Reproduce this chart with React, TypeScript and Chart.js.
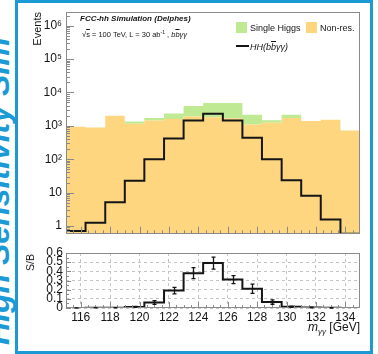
import React, { useEffect, useRef } from "react";
import { Chart, registerables } from "chart.js";

Chart.register(...registerables);

// m_γγ histogram bin edges [GeV] (15 bins)
const binEdges = [115, 116.33, 117.67, 119, 120.33, 121.67, 123, 124.33, 125.67, 127, 128.33, 129.67, 131, 132.33, 133.67, 135];

// Events per bin
const nonResonant = [930, 890, 2000, 1150, 1450, 1600, 1900, 1800, 1700, 1100, 1230, 1730, 1400, 1530, 730];
const singleHiggs = [0, 0, 0, 200, 280, 750, 2050, 3050, 3150, 1040, 250, 410, 0, 0, 0];
const hhSignal = [0.71, 1.25, 5.1, 22.5, 100, 420, 1440, 2300, 1440, 440, 100, 23.6, 8, 1.57, 0];

// Signal over background with statistical errors
const sOverB = [0.001, 0.0015, 0.003, 0.012, 0.06, 0.19, 0.38, 0.49, 0.31, 0.21, 0.065, 0.013, 0.006, 0.002, 0];
const sOverBErr = [0.001, 0.001, 0.002, 0.006, 0.02, 0.035, 0.06, 0.065, 0.044, 0.05, 0.024, 0.007, 0.004, 0.002, 0];

// Axis ticks and labels
const massTicks = [116, 118, 120, 122, 124, 126, 128, 130, 132, 134];
const eventDecades = [1, 10, 100, 1000, 10000, 100000, 1000000];
const decadeLabels = ["1", "10", "10²", "10³", "10⁴", "10⁵", "10⁶"];
const ratioTicks = [0, 0.1, 0.2, 0.3, 0.4, 0.5, 0.6];
const ratioLabels = ["0", "0.1", "0.2", "0.3", "0.4", "0.5", "0.6"];

const EVENTS_MIN = Math.pow(10, -0.235);
const EVENTS_MAX = Math.pow(10, 6.41);

const FONT = "'Liberation Sans', Arial, Helvetica, sans-serif";
const ORANGE = "#fed680";
const GREEN = "#bfe993";
const BLUE = "#1c9ad6";
const AXIS = "#8a8a8a";
const GRID = "#c4c4c4";
const INK = "#151515";

Chart.defaults.font.family = FONT;

// histogram outline: two points per bin so every edge gets a vertical step
function histPoints(values: number[]) {
  const pts: { x: number; y: number }[] = [];
  values.forEach((v, i) => {
    pts.push({ x: binEdges[i], y: v });
    pts.push({ x: binEdges[i + 1], y: v });
  });
  return pts;
}

function minorMassTicks() {
  const out: number[] = [];
  for (let v = 115.5; v < 135; v += 0.5) out.push(v);
  return out;
}

function logMinorTicks() {
  const out: number[] = [];
  for (let d = -1; d <= 6; d++) {
    for (let m = 2; m <= 9; m++) {
      const v = m * Math.pow(10, d);
      if (v > EVENTS_MIN && v < EVENTS_MAX) out.push(v);
    }
  }
  return out;
}

// frame around the plot area plus inward-pointing tick marks
function framePlugin(cfg: {
  xMajor: number[];
  xMinor: number[];
  yMajor: number[];
  yMinor: number[];
  xLen: [number, number];
  yLen: [number, number];
}) {
  return {
    id: "frameTicks",
    afterDatasetsDraw(chart: any) {
      const { ctx, chartArea: a, scales } = chart;
      const xs = scales.x;
      const ys = scales.y;
      ctx.save();
      ctx.strokeStyle = AXIS;
      ctx.lineWidth = 1;
      ctx.beginPath();
      const vx = (vals: number[], len: number) =>
        vals.forEach((v) => {
          const px = Math.round(xs.getPixelForValue(v)) + 0.5;
          ctx.moveTo(px, a.bottom);
          ctx.lineTo(px, a.bottom - len);
        });
      const vy = (vals: number[], len: number) =>
        vals.forEach((v) => {
          const py = Math.round(ys.getPixelForValue(v)) + 0.5;
          ctx.moveTo(a.left, py);
          ctx.lineTo(a.left + len, py);
        });
      vx(cfg.xMajor, cfg.xLen[0]);
      vx(cfg.xMinor, cfg.xLen[1]);
      vy(cfg.yMajor, cfg.yLen[0]);
      vy(cfg.yMinor, cfg.yLen[1]);
      ctx.stroke();
      ctx.strokeRect(Math.round(a.left) + 0.5, Math.round(a.top) + 0.5, Math.round(a.width) - 1, Math.round(a.height) - 1);
      ctx.restore();
    },
  };
}

const errorBarPlugin = {
  id: "errorBars",
  afterDatasetsDraw(chart: any) {
    const { ctx, scales } = chart;
    const xs = scales.x;
    const ys = scales.y;
    ctx.save();
    ctx.strokeStyle = INK;
    ctx.lineWidth = 1.3;
    ctx.beginPath();
    sOverB.forEach((v, i) => {
      const e = sOverBErr[i];
      if (!e) return;
      const px = Math.round(xs.getPixelForValue((binEdges[i] + binEdges[i + 1]) / 2)) + 0.5;
      const top = ys.getPixelForValue(v + e);
      const bot = ys.getPixelForValue(Math.max(0, v - e));
      ctx.moveTo(px, top);
      ctx.lineTo(px, bot);
      ctx.moveTo(px - 2, top);
      ctx.lineTo(px + 2, top);
      ctx.moveTo(px - 2, bot);
      ctx.lineTo(px + 2, bot);
    });
    ctx.stroke();
    ctx.restore();
  },
};

const MAIN_H = 245;
const RATIO_TOP = 240;
const RATIO_H = 110;

export default function App() {
  const mainRef = useRef<HTMLCanvasElement>(null);
  const ratioRef = useRef<HTMLCanvasElement>(null);

  useEffect(() => {
    const bkgTotal = nonResonant.map((v, i) => v + singleHiggs[i]);
    const main = new Chart(mainRef.current as HTMLCanvasElement, {
      type: "line",
      data: {
        datasets: [
          {
            label: "HH(bb̄γγ)",
            data: histPoints(hhSignal.map((v) => Math.max(v, EVENTS_MIN))),
            borderColor: INK,
            borderWidth: 2,
            pointRadius: 0,
            fill: false,
          },
          {
            label: "Non-res.",
            data: histPoints(nonResonant),
            borderColor: "rgba(0,0,0,0)",
            borderWidth: 0,
            backgroundColor: ORANGE,
            pointRadius: 0,
            fill: "start",
          },
          {
            label: "Single Higgs",
            data: histPoints(bkgTotal),
            borderColor: "rgba(0,0,0,0)",
            borderWidth: 0,
            backgroundColor: GREEN,
            pointRadius: 0,
            fill: 1,
          },
        ],
      },
      options: {
        animation: false,
        responsive: false,
        maintainAspectRatio: false,
        devicePixelRatio: 1,
        layout: { padding: { top: 12, right: 18, left: 0, bottom: 0 } },
        plugins: { legend: { display: false }, tooltip: { enabled: false } },
        elements: { line: { tension: 0 } },
        scales: {
          x: {
            type: "linear",
            min: 115,
            max: 135,
            bounds: "data",
            grid: { display: false, drawTicks: false },
            border: { display: false },
            ticks: { display: false },
            afterFit: (s: any) => {
              s.height = MAIN_H - 238;
            },
          },
          y: {
            type: "logarithmic",
            min: EVENTS_MIN,
            max: EVENTS_MAX,
            bounds: "data",
            grid: { display: false, drawTicks: false },
            border: { display: false },
            ticks: {
              autoSkip: false,
              padding: 4,
              color: INK,
              font: { size: 12 },
              callback: (v: any) => {
                const i = eventDecades.indexOf(Number(v));
                return i >= 0 ? decadeLabels[i] : "";
              },
            },
            afterBuildTicks: (s: any) => {
              s.ticks = eventDecades.map((v) => ({ value: v }));
            },
            afterFit: (s: any) => {
              s.width = 66;
            },
          },
        },
      } as any,
      plugins: [
        framePlugin({
          xMajor: massTicks,
          xMinor: minorMassTicks(),
          yMajor: eventDecades,
          yMinor: logMinorTicks(),
          xLen: [7, 3.5],
          yLen: [8, 4],
        }),
      ],
    });

    const ratio = new Chart(ratioRef.current as HTMLCanvasElement, {
      type: "line",
      data: {
        datasets: [
          {
            label: "S/B",
            data: histPoints(sOverB),
            borderColor: INK,
            borderWidth: 2,
            pointRadius: 0,
            fill: false,
          },
        ],
      },
      options: {
        animation: false,
        responsive: false,
        maintainAspectRatio: false,
        devicePixelRatio: 1,
        layout: { padding: { top: 253 - RATIO_TOP, right: 18, left: 0, bottom: 0 } },
        plugins: { legend: { display: false }, tooltip: { enabled: false } },
        elements: { line: { tension: 0 } },
        scales: {
          x: {
            type: "linear",
            min: 115,
            max: 135,
            bounds: "data",
            grid: { color: GRID, drawTicks: false },
            border: { display: false, dash: [3, 3] },
            ticks: {
              autoSkip: false,
              maxRotation: 0,
              padding: 2,
              color: INK,
              font: { size: 12 },
              callback: (v: any) => String(v),
            },
            afterBuildTicks: (s: any) => {
              s.ticks = massTicks.map((v) => ({ value: v }));
            },
            afterFit: (s: any) => {
              s.height = RATIO_H - (308 - RATIO_TOP);
            },
          },
          y: {
            type: "linear",
            min: 0,
            max: 0.6,
            bounds: "data",
            grid: { color: GRID, drawTicks: false },
            border: { display: false, dash: [3, 3] },
            ticks: {
              autoSkip: false,
              padding: 3,
              color: INK,
              font: { size: 12 },
              callback: (v: any) => {
                const i = ratioTicks.findIndex((t) => Math.abs(t - Number(v)) < 1e-6);
                return i >= 0 ? ratioLabels[i] : "";
              },
            },
            afterBuildTicks: (s: any) => {
              s.ticks = ratioTicks.map((v) => ({ value: v }));
            },
            afterFit: (s: any) => {
              s.width = 66;
            },
          },
        },
      } as any,
      plugins: [
        framePlugin({
          xMajor: massTicks,
          xMinor: minorMassTicks(),
          yMajor: ratioTicks,
          yMinor: [0.05, 0.15, 0.25, 0.35, 0.45, 0.55],
          xLen: [6, 3],
          yLen: [5, 3],
        }),
        errorBarPlugin,
      ],
    });

    return () => {
      main.destroy();
      ratio.destroy();
    };
  }, []);

  const abs = (extra: React.CSSProperties): React.CSSProperties => ({
    position: "absolute",
    whiteSpace: "nowrap",
    fontFamily: FONT,
    color: INK,
    ...extra,
  });
  const over: React.CSSProperties = { textDecoration: "overline" };

  return (
    <div
      style={{
        position: "fixed",
        left: 0,
        top: 0,
        width: 378,
        height: 354,
        background: "#ffffff",
        overflow: "hidden",
        fontFamily: FONT,
      }}
    >
      {/* side banner */}
      <div style={{ position: "absolute", left: 0, top: 0, width: 15, height: 354, overflow: "hidden" }}>
        <div
          style={abs({
            left: -18,
            top: 345,
            transformOrigin: "0 0",
            transform: "rotate(-90deg)",
            fontSize: 32,
            lineHeight: "32px",
            fontWeight: "bold",
            fontStyle: "italic",
            color: BLUE,
          })}
        >
          High Sensitivity Sim
        </div>
      </div>
      <div
        style={{
          position: "absolute",
          left: 15,
          top: 0,
          width: 358,
          height: 354,
          boxSizing: "border-box",
          border: `3px solid ${BLUE}`,
        }}
      />

      <canvas ref={mainRef} width={378} height={MAIN_H} style={{ position: "absolute", left: 0, top: 0 }} />
      <canvas ref={ratioRef} width={378} height={RATIO_H} style={{ position: "absolute", left: 0, top: RATIO_TOP }} />

      {/* plot annotations */}
      <div style={abs({ left: 80, top: 14, fontSize: 8, lineHeight: "10px", fontWeight: "bold", fontStyle: "italic" })}>
        FCC-hh Simulation (Delphes)
      </div>
      <div style={abs({ left: 82, top: 30, fontSize: 7.5, lineHeight: "10px" })}>
        √<span style={over}>s</span> = 100 TeV, L = 30 ab
        <span style={{ fontSize: 5, position: "relative", top: -3 }}>-1</span> ,{" "}
        <i>
          b<span style={over}>b</span>γγ
        </i>
      </div>

      {/* legend */}
      <div style={{ position: "absolute", left: 236, top: 22, width: 11, height: 11, background: GREEN }} />
      <div style={abs({ left: 250, top: 23, fontSize: 9, lineHeight: "10px" })}>Single Higgs</div>
      <div style={{ position: "absolute", left: 306, top: 22, width: 11, height: 11, background: ORANGE }} />
      <div style={abs({ left: 320, top: 23, fontSize: 9, lineHeight: "10px" })}>Non-res.</div>
      <div style={{ position: "absolute", left: 236, top: 45, width: 13, height: 2, background: INK }} />
      <div style={abs({ left: 250, top: 42, fontSize: 9, lineHeight: "10px", fontStyle: "italic" })}>
        HH(b<span style={over}>b</span>γγ)
      </div>

      {/* axis titles */}
      <div
        style={abs({
          left: 31.5,
          top: 12,
          fontSize: 11,
          lineHeight: "11px",
          transformOrigin: "0 0",
          transform: "rotate(-90deg) translateX(-100%)",
        })}
      >
        Events
      </div>
      <div
        style={abs({
          left: 25,
          top: 254,
          fontSize: 10.5,
          lineHeight: "10.5px",
          transformOrigin: "0 0",
          transform: "rotate(-90deg) translateX(-100%)",
        })}
      >
        S/B
      </div>
      <div style={abs({ right: 18, top: 321, fontSize: 12, lineHeight: "12px" })}>
        <i>m</i>
        <span style={{ fontSize: 8, fontStyle: "italic", position: "relative", top: 3 }}>γγ</span> [GeV]
      </div>
    </div>
  );
}
